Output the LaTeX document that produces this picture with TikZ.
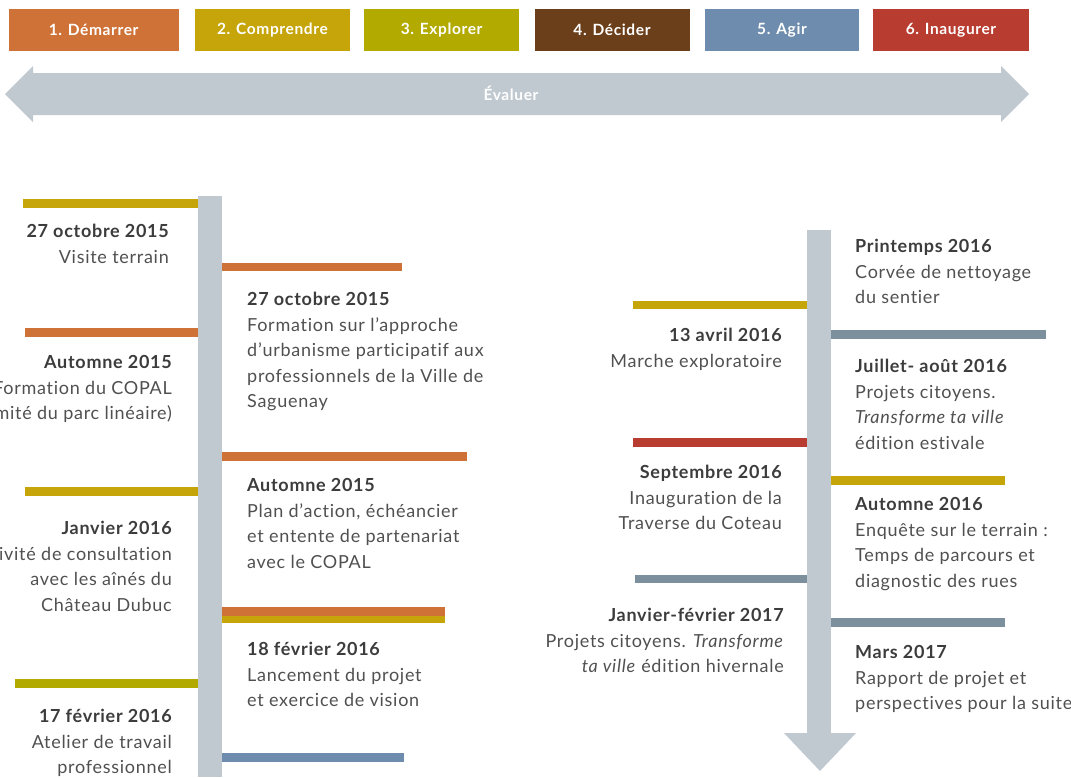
\documentclass[tikz,border=0pt]{standalone}
\usepackage{fontspec}
\setmainfont[LetterSpace=4, Ligatures={NoCommon,NoRare}]{Lato}
\definecolor{cOrange}{HTML}{CF7238}
\definecolor{cMustard}{HTML}{C6A50A}
\definecolor{cOlive}{HTML}{B3AA00}
\definecolor{cBrown}{HTML}{6B3F1A}
\definecolor{cBlue}{HTML}{6E8CAD}
\definecolor{cRed}{HTML}{B83C30}
\definecolor{cSlate}{HTML}{7B8F9D}
\definecolor{cGray}{HTML}{C0C8D0}
\definecolor{cText}{HTML}{505050}
\definecolor{cHead}{HTML}{3C3C3C}
\newcommand{\hd}[1]{\textbf{\color{cHead}#1}}
\newcommand{\fs}{\rule{0pt}{13.5pt}}
\tikzset{
  phase/.style={fill=#1, draw=none, minimum height=42pt, inner sep=0pt,
    text=white, font=\fontsize{15.5}{17}\selectfont\bfseries},
  ltext/.style={anchor=north east, align=right, inner sep=0pt, text=cText,
    font=\fontsize{18}{25.5}\selectfont},
  rtext/.style={anchor=north west, align=left, inner sep=0pt, text=cText,
    font=\fontsize{18}{25.5}\selectfont},
}
\begin{document}
\begin{tikzpicture}[x=1pt,y=-1pt]
\useasboundingbox (0,0) rectangle (1071,777);
\clip (0,0) rectangle (1071,777);
% phases
\node[phase=cOrange, minimum width=170pt] (p1) at (93.6,30) {1. Démarrer};
\node[phase=cMustard, minimum width=155.6pt] (p2) at (272.4,30) {2. Comprendre};
\node[phase=cOlive, minimum width=154.7pt] (p3) at (441.6,30) {3. Explorer};
\node[phase=cBrown, minimum width=155pt] (p4) at (612,30) {4. Décider};
\node[phase=cBlue, minimum width=154pt] (p5) at (782,30) {5. Agir};
\node[phase=cRed, minimum width=155.6pt] (p6) at (951,30) {6. Inaugurer};
% evaluate double arrow
\fill[cGray] (5,94) -- (33,66) -- (33,73) -- (1001,73) -- (1001,66) -- (1029,94)
  -- (1001,122) -- (1001,115) -- (33,115) -- (33,122) -- cycle;
\node[text=white, font=\fontsize{15.5}{17}\selectfont\bfseries] (ev) at (511,93) {Évaluer};
% left timeline
\fill[cGray] (198,196) rectangle (222,777);
\fill[cMustard] (23,199) rectangle (198,208);
\fill[cOrange] (222,263) rectangle (402,271);
\fill[cOrange] (25,328) rectangle (198,337);
\fill[cOrange] (222,452) rectangle (467,461);
\fill[cMustard] (25,487) rectangle (198,496);
\fill[cOrange] (222,607) rectangle (445,616);
\fill[cMustard] (222,616) rectangle (445,623);
\fill[cOlive] (15,679) rectangle (198,688);
\fill[cBlue] (222,753) rectangle (404,762);
% right timeline
\fill[cGray] (807,230) rectangle (831,734);
\fill[cGray] (784,733) -- (856,733) -- (820,771) -- cycle;
\fill[cMustard] (633,301) rectangle (807,309);
\fill[cSlate] (831,330) rectangle (1046,339);
\fill[cRed] (633,438) rectangle (807,447);
\fill[cMustard] (831,476) rectangle (1005,485);
\fill[cSlate] (635,575) rectangle (807,583);
\fill[cSlate] (831,618) rectangle (1005,627);
% left texts
\node[ltext] (ta) at (169,224) {\fs\hd{27 octobre 2015}\\Visite terrain};
\node[ltext] (tb) at (172,355) {\fs\hd{Automne 2015}\\Formation du COPAL\\(Comité du parc linéaire)};
\node[ltext] (tc) at (172,521) {\fs\hd{Janvier 2016}\\Activité de consultation\\avec les aînés du\\Château Dubuc};
\node[ltext] (td) at (172,709) {\fs\hd{17 février 2016}\\Atelier de travail\\professionnel};
\node[rtext] (te) at (247,292) {\fs\hd{27 octobre 2015}\\Formation sur l’approche\\d’urbanisme participatif aux\\professionnels de la Ville de\\Saguenay};
\node[rtext] (tf) at (247,478) {\fs\hd{Automne 2015}\\Plan d’action, échéancier\\et entente de partenariat\\avec le COPAL};
\node[rtext] (tg) at (247,642) {\fs\hd{18 février 2016}\\Lancement du projet\\et exercice de vision};
% right timeline texts
\node[ltext] (th) at (782,328) {\fs\hd{13 avril 2016}\\Marche exploratoire};
\node[ltext] (ti) at (782,465) {\fs\hd{Septembre 2016}\\Inauguration de la\\Traverse du Coteau};
\node[ltext] (tj) at (784,608) {\fs\hd{Janvier-février 2017}\\Projets citoyens. \textit{Transforme}\\\textit{ta ville} édition hivernale};
\node[rtext] (tk) at (855,239) {\fs\hd{Printemps 2016}\\Corvée de nettoyage\\du sentier};
\node[rtext] (tl) at (855,359) {\fs\hd{Juillet- août 2016}\\Projets citoyens.\\\textit{Transforme ta ville}\\édition estivale};
\node[rtext] (tm) at (855,497) {\fs\hd{Automne 2016}\\Enquête sur le terrain :\\Temps de parcours et\\diagnostic des rues};
\node[rtext] (tn) at (855,645) {\fs\hd{Mars 2017}\\Rapport de projet et\\perspectives pour la suite};
\end{tikzpicture}
\end{document}
